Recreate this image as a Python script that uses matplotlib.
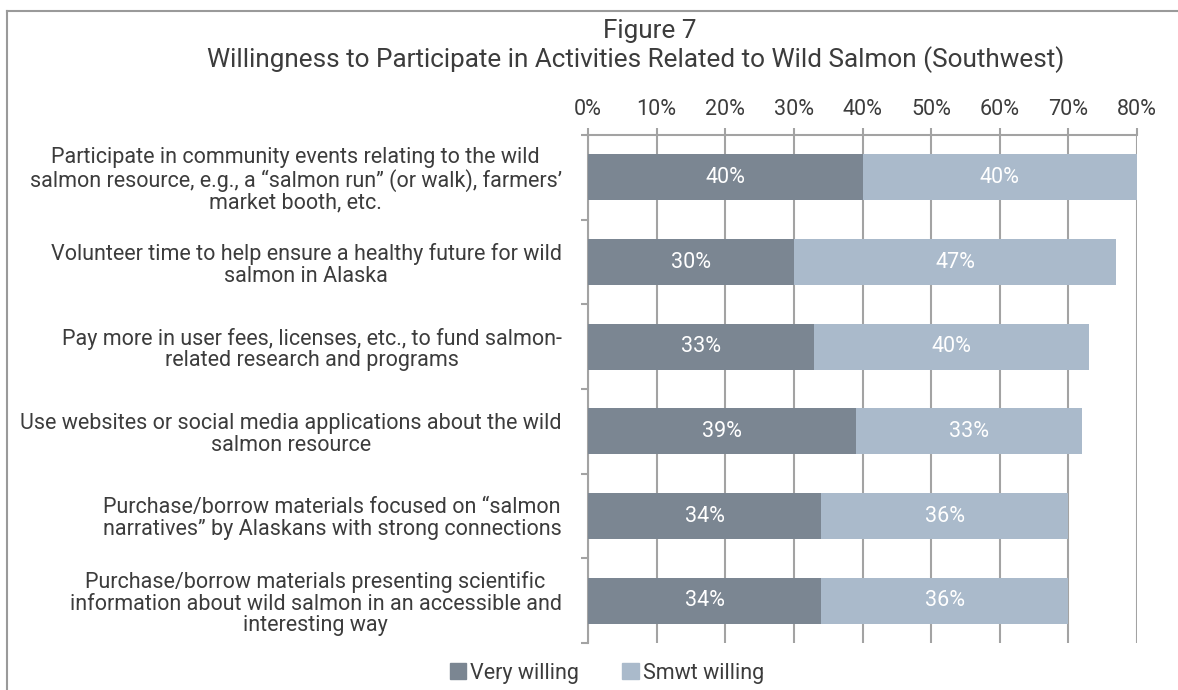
import matplotlib
matplotlib.use("Agg")
import matplotlib.pyplot as plt
import numpy as np
from matplotlib.lines import Line2D
from matplotlib.patches import Patch

plt.rcParams['font.family'] = ['Roboto', 'DejaVu Sans']

# data, top row first
categories = [
    "Participate in community events relating to the wild\nsalmon resource, e.g., a \u201csalmon run\u201d (or walk), farmers\u2019\nmarket booth, etc.",
    "Volunteer time to help ensure a healthy future for wild\nsalmon in Alaska",
    "Pay more in user fees, licenses, etc., to fund salmon-\nrelated research and programs",
    "Use websites or social media applications about the wild\nsalmon resource",
    "Purchase/borrow materials focused on \u201csalmon\nnarratives\u201d by Alaskans with strong connections",
    "Purchase/borrow materials presenting scientific\ninformation about wild salmon in an accessible and\ninteresting way",
]
very_willing = [0.40, 0.30, 0.33, 0.39, 0.34, 0.34]
smwt_willing = [0.40, 0.47, 0.40, 0.33, 0.36, 0.36]
xticks = [0, 0.1, 0.2, 0.3, 0.4, 0.5, 0.6, 0.7, 0.8]

dark = '#7b8692'
light = '#aabacb'
grid_c = '#a3a3a3'
txt_c = '#3c3c3c'
fs = 15.5

fig = plt.figure(figsize=(11.78, 6.9), dpi=100)
ax = fig.add_axes([588/1178, 47/690, 549/1178, 508/690])

n = len(categories)
y = np.arange(n)
ax.barh(y, very_willing, height=0.54, color=dark, zorder=3)
ax.barh(y, smwt_willing, left=very_willing, height=0.54, color=light, zorder=3)

for i in range(n):
    ax.text(very_willing[i] / 2, y[i], f"{very_willing[i]*100:.0f}%", ha='center', va='center',
            color='white', fontsize=fs, zorder=4)
    ax.text(very_willing[i] + smwt_willing[i] / 2, y[i], f"{smwt_willing[i]*100:.0f}%",
            ha='center', va='center', color='white', fontsize=fs, zorder=4)

ax.set_xlim(0, 0.8)
ax.set_ylim(n - 0.5, -0.5)
ax.set_xticks(xticks)
ax.set_xticklabels([f"{t*100:.0f}%" for t in xticks])
ax.xaxis.tick_top()
ax.tick_params(axis='x', direction='out', length=5, width=1.5, color=grid_c, pad=6,
               labelsize=fs, labelcolor=txt_c)
ax.grid(axis='x', color=grid_c, linewidth=1.5, zorder=0)

ax.set_yticks(y)
ax.set_yticklabels(categories, ha='right', multialignment='center', linespacing=1.05)
ax.set_yticks(np.arange(n + 1) - 0.5, minor=True)
ax.tick_params(axis='y', which='major', length=0, pad=19, labelsize=fs, labelcolor=txt_c)
ax.tick_params(axis='y', which='minor', length=5, width=1.5, color=grid_c, direction='out')

for s in ['right', 'bottom']:
    ax.spines[s].set_visible(False)
for s in ['top', 'left']:
    ax.spines[s].set_color(grid_c)
    ax.spines[s].set_linewidth(1.5)

fig.text(650/1178, 1 - 38/690, "Figure 7", ha='center', va='baseline', fontsize=18.8, color=txt_c)
fig.text(636/1178, 1 - 67/690,
         "Willingness to Participate in Activities Related to Wild Salmon (Southwest)",
         ha='center', va='baseline', fontsize=18.8, color=txt_c)

# frame lines
fig.add_artist(Line2D([7/1178, 1], [1 - 10.5/690, 1 - 10.5/690], color='#9a9a9a', linewidth=1.5))
fig.add_artist(Line2D([7/1178, 7/1178], [0, 1 - 10.5/690], color='#9a9a9a', linewidth=1.5))

handles = [Patch(color=dark, label='Very willing'), Patch(color=light, label='Smwt willing')]
fig.legend(handles=handles, loc='center', bbox_to_anchor=(607/1178, 1 - 673/690), ncol=2,
           frameon=False, fontsize=fs, handlelength=0.75, handleheight=0.75, handletextpad=0.2,
           columnspacing=2.0, labelcolor=txt_c)

fig.savefig('out.png', dpi=100)
